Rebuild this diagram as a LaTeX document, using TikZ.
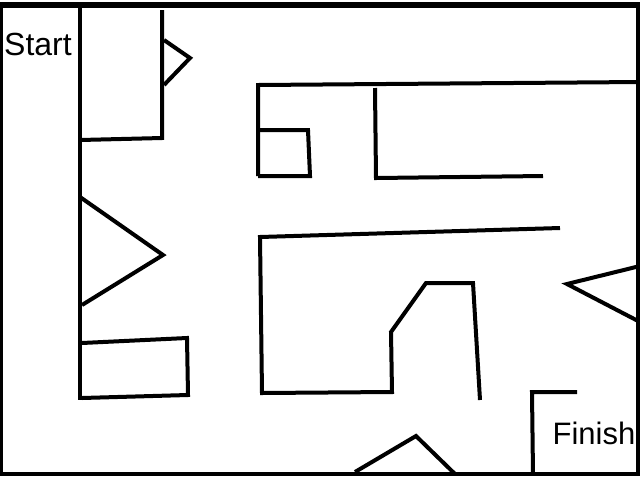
\documentclass[tikz,border=0pt]{standalone}
\usepackage{fontspec}
\setmainfont{Liberation Sans}
\begin{document}
\begin{tikzpicture}[x=0.75pt,y=-0.75pt,wall/.style={line width=3pt,line join=miter},lab/.style={font=\fontsize{15}{18}\selectfont}]
\useasboundingbox (0,0) rectangle (640,480);
\fill[white] (0,0) rectangle (640,480);
\draw[wall] (1,6) -- (638,6) -- (638,474) -- (1,474) -- cycle;
\draw[wall,line width=4pt] (0,5) -- (640,5);
\draw[wall] (80,8) -- (80,400);
\draw[wall] (162,10) -- (162,138) -- (80,140);
\draw[wall] (164,40) -- (190,58) -- (164,85);
\draw[wall] (80,197) -- (163,255) -- (82,305);
\draw[wall] (82,343) -- (187,338) -- (188,395) -- (82,398);
\draw[wall] (640,82) -- (258,85) -- (258,176);
\draw[wall] (256,130) -- (308,130) -- (310,176) -- (258,176);
\draw[wall] (375,88) -- (376,178) -- (543,176);
\draw[wall] (560,228) -- (260,237) -- (262,393) -- (392,392) -- (391,332) -- (426,283) -- (473,283) -- (480,400);
\draw[wall] (640,266) -- (567,284) -- (640,322);
\draw[wall] (577,392) -- (532,392) -- (533,474);
\draw[wall] (355,472) -- (416,436) -- (455,474);
\node[lab,scale=1.6] (start) at (38,44) {Start};
\node[lab,scale=1.55] (finish) at (594,433) {Finish};
\end{tikzpicture}
\end{document}
